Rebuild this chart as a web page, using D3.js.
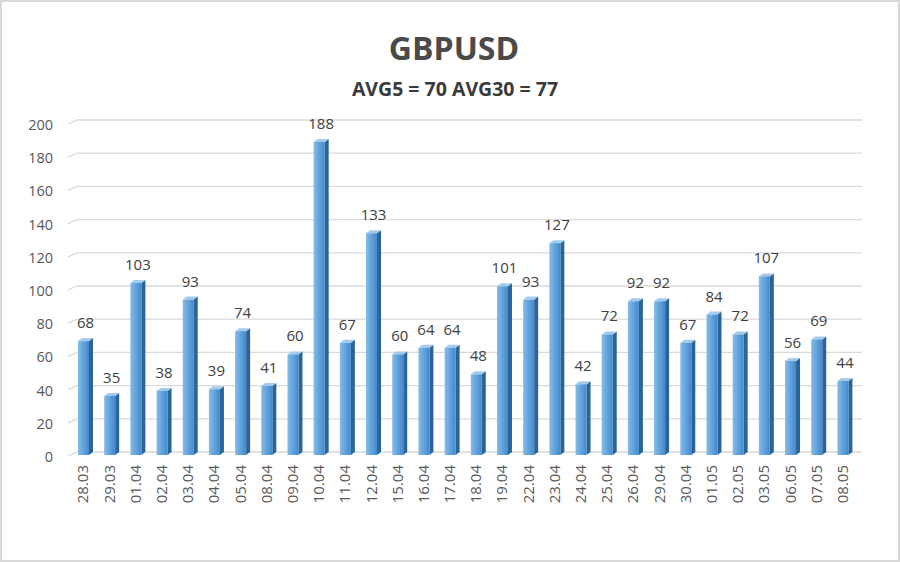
<!DOCTYPE html>
<html><head><meta charset="utf-8">
<script src="https://cdn.jsdelivr.net/npm/d3@7"></script>
<style>
html,body{margin:0;padding:0;background:#fff;}
svg{display:block;}
</style></head>
<body>
<script>
const categories = ["28.03","29.03","01.04","02.04","03.04","04.04","05.04","08.04","09.04","10.04","11.04","12.04","15.04","16.04","17.04","18.04","19.04","22.04","23.04","24.04","25.04","26.04","29.04","30.04","01.05","02.05","03.05","06.05","07.05","08.05"];
const values = [68,35,103,38,93,39,74,41,60,188,67,133,60,64,64,48,101,93,127,42,72,92,92,67,84,72,107,56,69,44];
const yTicks = [0,20,40,60,80,100,120,140,160,180,200];
const title = "GBPUSD";
const subtitle = "AVG5 = 70 AVG30 = 77";

const W = 900, H = 562;
const svg = d3.select("body").append("svg").attr("width", W).attr("height", H);
const defs = svg.append("defs");
const g1 = defs.append("linearGradient").attr("id","front").attr("x1","0").attr("x2","1").attr("y1","0").attr("y2","0");
g1.append("stop").attr("offset","0").attr("stop-color","#85bbe8");
g1.append("stop").attr("offset","0.5").attr("stop-color","#62a3dc");
g1.append("stop").attr("offset","1").attr("stop-color","#4289cc");

svg.append("rect").attr("x",1).attr("y",1).attr("width",W-2).attr("height",H-2)
  .attr("fill","#fff").attr("stroke","#d9d9d9").attr("stroke-width",2);

const font = "'Open Sans', 'Segoe UI', sans-serif";
svg.append("text").attr("x",454).attr("y",60).attr("text-anchor","middle")
  .attr("font-family",font).attr("font-weight","bold").attr("font-size",32).attr("fill","#4a4a4a").text(title);
svg.append("text").attr("x",455).attr("y",96).attr("text-anchor","middle")
  .attr("font-family",font).attr("font-weight","bold").attr("font-size",19.5).attr("fill","#3a3a3a").text(subtitle);

const x = d3.scaleBand().domain(categories).range([72.4, 858]).paddingInner(0).paddingOuter(0);
const y = d3.scaleLinear().domain([0,200]).range([452,120]);

const backX0 = 77, backX1 = 862, depthX = 9, depthY = 4;
// gridlines
const grid = svg.append("g");
yTicks.forEach(t=>{
  grid.append("path").attr("d",`M${backX0-depthX},${y(t)+depthY}L${backX0},${y(t)}L${backX1},${y(t)}`)
    .attr("fill","none").attr("stroke","#d9d9d9").attr("stroke-width",1.3);
});
// y axis labels
svg.append("g").selectAll("text").data(yTicks).join("text")
  .attr("x",53).attr("y",d=>y(d)+depthY+6).attr("text-anchor","end")
  .attr("font-family",font).attr("font-size",14.5).attr("fill","#595959").text(d=>d);

// bars
const bw = 11, dx = 4, dy = 3;
const bars = svg.append("g");
categories.forEach((c,i)=>{
  const cx = x(c) + x.bandwidth()/2;
  const fc = cx - 2;
  const x0 = fc - bw/2, x1 = x0 + bw;
  const yt = y(values[i]) + 2, yb = y(0) + 3;
  bars.append("path").attr("d",`M${x1},${yt}L${x1+dx},${yt-dy}L${x1+dx},${yb-dy}L${x1},${yb}Z`).attr("fill","#2b6496");
  bars.append("path").attr("d",`M${x0},${yt}L${x0+dx},${yt-dy}L${x1+dx},${yt-dy}L${x1},${yt}Z`).attr("fill","#a3cbee");
  bars.append("rect").attr("x",x0).attr("y",yt).attr("width",bw).attr("height",yb-yt).attr("fill","url(#front)");
  bars.append("text").attr("x",cx).attr("y",yt-13).attr("text-anchor","middle")
    .attr("font-family",font).attr("font-size",15).attr("fill","#404040").text(values[i]);
  bars.append("text").attr("transform",`translate(${fc+5},465) rotate(-90)`).attr("text-anchor","end")
    .attr("font-family",font).attr("font-size",15).attr("fill","#595959").text(c);
});
</script>
</body></html>
